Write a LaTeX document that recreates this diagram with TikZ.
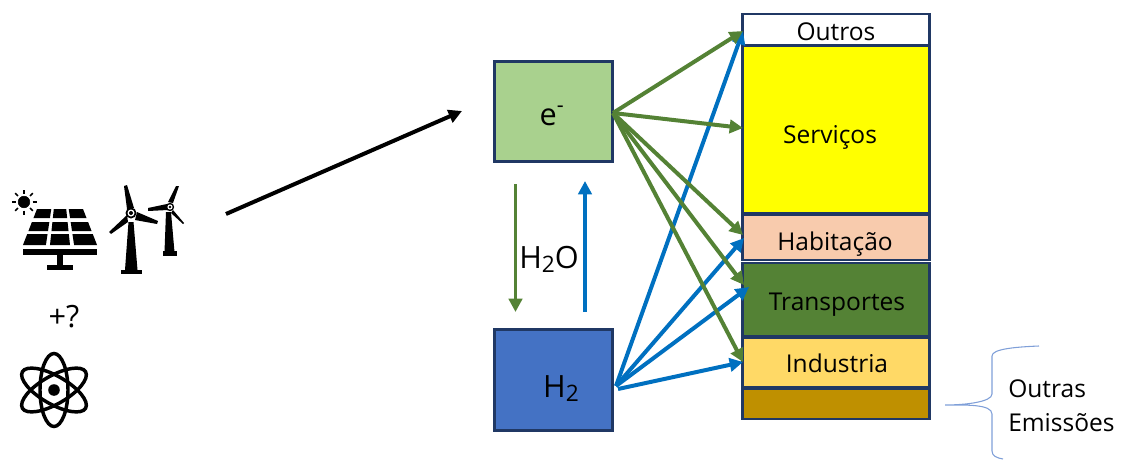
\documentclass[tikz,border=0pt]{standalone}
\usepackage{fontspec}
\setmainfont{Open Sans}
\usetikzlibrary{arrows.meta}
\definecolor{boxline}{HTML}{203864}
\definecolor{elecfill}{HTML}{A9D18E}
\definecolor{hydfill}{HTML}{4472C4}
\definecolor{greenarrow}{HTML}{548235}
\definecolor{bluearrow}{HTML}{0070C0}
\definecolor{servfill}{HTML}{FFFF00}
\definecolor{peach}{HTML}{F8CBAD}
\definecolor{gold}{HTML}{FFD966}
\definecolor{brown}{HTML}{BF9000}
\definecolor{bracecol}{HTML}{7F9FD8}
\tikzset{
  sector/.style={draw=boxline, line width=1.8pt, inner sep=0pt, outer sep=0pt, minimum width=140.25pt},
  carrier/.style={draw=boxline, line width=2.2pt, inner sep=0pt, outer sep=0pt, minimum width=88.5pt},
  lab/.style={inner sep=0pt, anchor=base, font=\fontsize{18.4}{22}\selectfont},
  biglab/.style={inner sep=0pt, anchor=base, font=\fontsize{23}{26}\selectfont},
  greenflow/.style={draw=greenarrow, line width=3pt, -{Triangle[length=10pt,width=10pt]}},
  blueflow/.style={draw=bluearrow, line width=3pt, -{Triangle[length=10pt,width=10pt]}},
}
\begin{document}
\begin{tikzpicture}[x=0.75pt,y=-0.75pt]
  \useasboundingbox (0,0) rectangle (1125,460);

  % end use sectors
  \node[sector, fill=white, minimum height=23.25pt] (outros) at (836,29.5) {};
  \node[sector, fill=servfill, minimum height=125.25pt] (servicos) at (836,129.5) {};
  \node[sector, fill=peach, minimum height=33.75pt] (habitacao) at (836,237.5) {};
  \node[sector, fill=greenarrow, minimum height=54.75pt] (transportes) at (836,299.5) {};
  \node[sector, fill=gold, minimum height=36.75pt] (industria) at (836,362.5) {};
  \node[sector, fill=brown, minimum height=22.5pt] (resto) at (836,404) {};

  % energy carriers
  \node[carrier, fill=elecfill, minimum height=75pt] (elec) at (553.5,111.5) {};
  \node[carrier, fill=hydfill, minimum height=75.75pt] (hyd) at (553.5,380) {};

  % arrow ends
  \coordinate (elecout) at (613,113);
  \coordinate (hydout) at (616,386);
  \coordinate (indout) at (618,389);
  \coordinate (outrosin) at (743,31);
  \coordinate (servin) at (743,128);
  \coordinate (habgreen) at (743,235);
  \coordinate (habblue) at (744,238);
  \coordinate (trgreen) at (744,285);
  \coordinate (trblue) at (749,287);
  \coordinate (indin) at (743,362);
  \coordinate (renew) at (226,214);
  \coordinate (renewin) at (462,111);
  \coordinate (downtop) at (515.5,184);
  \coordinate (downend) at (515.5,312);
  \coordinate (uptop) at (585,181);
  \coordinate (upend) at (585,312);

  \draw[blueflow] (hydout) -- (outrosin);
  \draw[blueflow] (hydout) -- (habblue);
  \draw[blueflow] (hydout) -- (trblue);
  \draw[blueflow] (indout) -- (indin);
  \draw[greenflow] (elecout) -- (outrosin);
  \draw[greenflow] (elecout) -- (servin);
  \draw[greenflow] (elecout) -- (habgreen);
  \draw[greenflow] (elecout) -- (trgreen);
  \draw[greenflow] (elecout) -- (indin);
  \draw[greenflow, line width=2.5pt] (downtop) -- (downend);
  \draw[blueflow, line width=2.5pt] (upend) -- (uptop);
  \draw[black, line width=3pt, -{Triangle[length=10pt,width=10pt]}] (renew) -- (renewin);

  % labels
  \node[lab] (outroslab) at (836,41) {Outros};
  \node[lab] (servlab) at (830,143) {Serviços};
  \node[lab] (hablab) at (835,250) {Habitação};
  \node[lab] (trlab) at (837,310) {Transportes};
  \node[lab] (indlab) at (837,372) {Industria};
  \node[lab, anchor=base west] (outraslab) at (1008,397) {Outras};
  \node[lab, anchor=base west] (emislab) at (1008,431) {Emissões};
  \node[biglab] (elab) at (552,125) {e\textsuperscript{-}};
  \node[biglab] (hlab) at (561,397) {H\raisebox{-3pt}{\fontsize{17}{20}\selectfont 2}};
  \node[biglab] (wlab) at (549,268) {H\raisebox{-3pt}{\fontsize{17}{20}\selectfont 2}O};
  \node[biglab] (pluslab) at (64,327) {+?};

  % brace
  \draw[bracecol, line width=0.8pt] (1039,346) .. controls (1015,347) and (992,349) .. (992,356)
    -- (992,394) .. controls (992,402) and (965,405) .. (945,405)
    .. controls (965,405) and (992,404) .. (992,414) -- (992,451)
    .. controls (992,456) and (997,458) .. (1003,459);

  % sun
  \filldraw[black] (24,202) circle (5.8);
  \foreach \a in {0,45,...,315}
    \draw[black, line width=1.2pt] (24,202) ++(\a:8.5) -- ++(\a:4);

  % solar panel
  \foreach \ya/\yb in {209/218,222/231,234/245}
    \foreach \ua/\ub in {-1/-.38,-.27/.27,.38/1}
      \fill[black] ({60+\ua*(23+(\ya-209)*.39)},\ya) -- ({60+\ub*(23+(\ya-209)*.39)},\ya)
        -- ({60+\ub*(23+(\yb-209)*.39)},\yb) -- ({60+\ua*(23+(\yb-209)*.39)},\yb) -- cycle;
  \fill[black] (23,249) rectangle (97,255);
  \fill[black] (57,255) rectangle (63,266);
  \fill[black] (47,265) rectangle (73,270);

  % wind turbines
  \fill[black] (128.5,222) -- (133.5,222) -- (137.5,270) -- (125,270) -- cycle;
  \fill[black] (121,270) rectangle (142,274);
  \fill[black] (124,186) -- (127,185) -- (134,208) -- (127,209) -- cycle;
  \fill[black] (137,212) -- (158,221) -- (157,224) -- (135,220) -- cycle;
  \fill[black] (127,215) -- (109,232) -- (111,234) -- (128,222) -- cycle;
  \fill[black] (131,213) circle (5.5);
  \fill[white] (131,213) circle (3.5);
  \fill[black] (131,213) circle (2);
  \fill[black] (166,212) -- (171,212) -- (174.5,252) -- (164.5,252) -- cycle;
  \fill[black] (163,251) rectangle (177,256);
  \fill[black] (176,186) -- (179,186) -- (173,203) -- (168,202) -- cycle;
  \fill[black] (148,208) -- (167,204) -- (168,210) -- (148,211) -- cycle;
  \fill[black] (173,210) -- (184,223) -- (183,224) -- (171,213) -- cycle;
  \fill[black] (170,207) circle (4.2);
  \fill[white] (170,207) circle (2.6);
  \fill[black] (170,207) circle (1.3);

  % atom
  \foreach \a in {90,30,-30}
    \draw[black, line width=2.6pt, rotate around={\a:(54,390)}] (54,390) ellipse (36.5 and 14);
  \fill[black] (54,390) circle (5.8);
\end{tikzpicture}
\end{document}
